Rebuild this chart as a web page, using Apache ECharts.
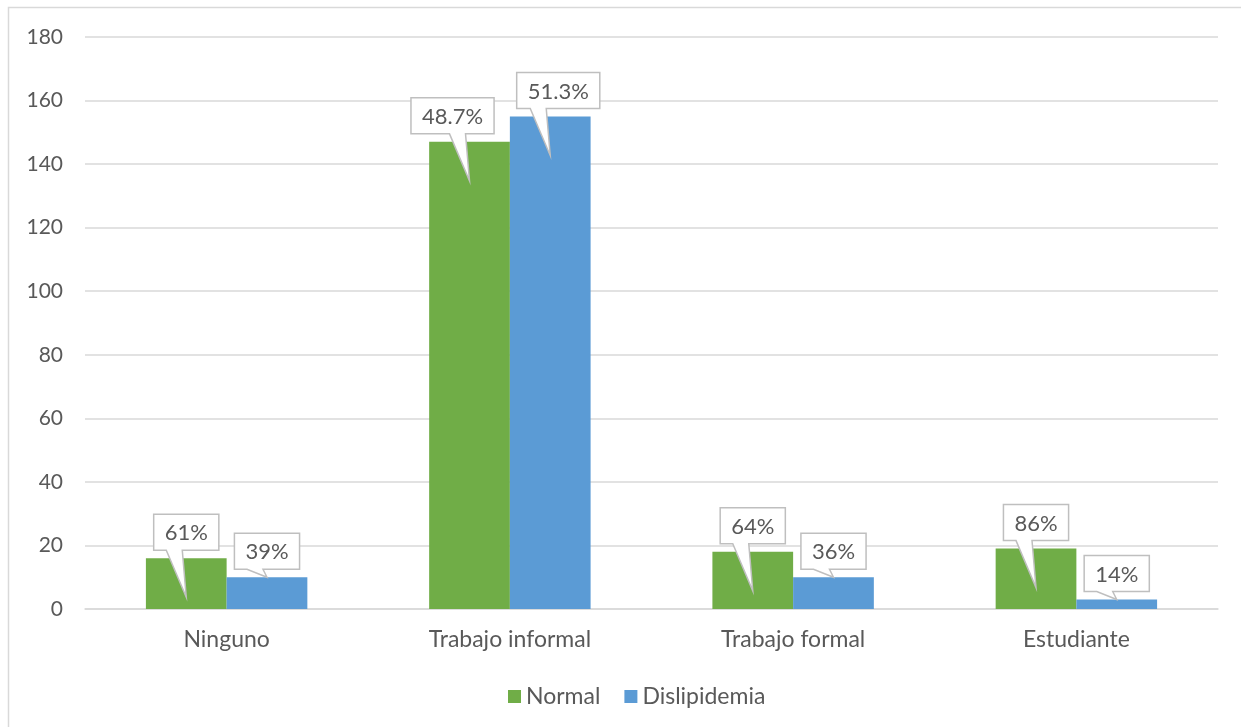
<!DOCTYPE html>
<html>
<head>
<meta charset="utf-8">
<script src="https://cdn.jsdelivr.net/npm/echarts@6/dist/echarts.min.js"></script>
<style>
	html, body { margin: 0; padding: 0; background: #fff; }
	#main { width: 1241px; height: 727px; }
</style>
</head>
<body>
<div id="main"></div>
<script>
var categories = [ 'Ninguno', 'Trabajo informal', 'Trabajo formal', 'Estudiante' ];
var normalValues = [ 16, 147, 18, 19 ];
var dislipValues = [ 10, 155, 10, 3 ];
var normalPct = [ '61%', '48.7%', '64%', '86%' ];
var dislipPct = [ '39%', '51.3%', '36%', '14%' ];

// horizontal nudge of each callout box (pixels)
var normalShift = [ 0, -17, 0, 0 ];
var dislipShift = [ 0, 8, 0, 0 ];

var FONT = 'Lato, "Open Sans", sans-serif';
var GAP = 0.43;

var measureCtx = document.createElement('canvas').getContext('2d');
function textWidth(txt, size) {
	measureCtx.font = size + 'px ' + FONT;
	return measureCtx.measureText(txt).width;
}

function makeCallout(side, labels, shifts) {
	return function(params, api) {
		var i = params.dataIndex;
		var pt = api.coord([ api.value(0), api.value(1) ]);
		var zero = api.coord([ api.value(0), 0 ])[1];
		var band = api.size([ 1, 0 ])[0];
		var barW = band * (1 - GAP) / 2;
		var cx = pt[0] + side * barW / 2;
		var top = pt[1];
		var tipX = cx;
		var tipY = top + ((zero - top) > 45 ? 39 : 0);
		var txt = labels[i];
		var bw = textWidth(txt, 22) + 22;
		var bh = 36;
		var bx = cx + shifts[i] - bw / 2;
		var by = top - 8 - bh;
		var baseL = Math.max(tipX - 20, bx + 2);
		var baseR = Math.min(tipX - 4, bx + bw - 2);
		if (baseR - baseL < 10) {
			baseL = tipX - 9;
			baseR = tipX + 11;
		}
		var yb = by + bh;
		return {
			type : 'group',
			children : [ {
				type : 'polygon',
				shape : {
					points : [ [ bx, by ], [ bx + bw, by ], [ bx + bw, yb ],
							[ baseR, yb ], [ tipX, tipY ], [ baseL, yb ],
							[ bx, yb ] ]
				},
				style : {
					fill : '#ffffff',
					stroke : '#bfbfbf',
					lineWidth : 1.5
				}
			}, {
				type : 'text',
				x : bx + bw / 2,
				y : by + bh / 2 + 1,
				style : {
					text : txt,
					align : 'center',
					verticalAlign : 'middle',
					fontSize : 22,
					fontFamily : FONT,
					fill : '#595959'
				}
			} ]
		};
	};
}

function pairs(values) {
	var out = [];
	for (var i = 0; i < values.length; i++) {
		out.push([ i, values[i] ]);
	}
	return out;
}

var myChart = echarts.init(document.getElementById('main'));
myChart.setOption({
	animation : false,
	textStyle : {
		fontFamily : FONT
	},
	graphic : [ {
		type : 'rect',
		shape : {
			x : 8.5,
			y : 7.5,
			width : 1400,
			height : 900
		},
		style : {
			fill : 'none',
			stroke : '#d9d9d9',
			lineWidth : 1.5
		},
		silent : true,
		z : -10
	} ],
	legend : {
		data : [ 'Normal', 'Dislipidemia' ],
		left : 503,
		top : 680,
		icon : 'rect',
		itemWidth : 13,
		itemHeight : 13,
		itemGap : 24,
		textStyle : {
			fontSize : 23,
			color : '#595959',
			fontFamily : FONT
		}
	},
	grid : {
		left : 85,
		right : 23,
		top : 37,
		bottom : 118
	},
	xAxis : {
		type : 'category',
		data : categories,
		axisTick : {
			show : false
		},
		axisLine : {
			lineStyle : {
				color : '#d9d9d9',
				width : 1.5
			}
		},
		axisLabel : {
			color : '#595959',
			fontSize : 23,
			margin : 19,
			fontFamily : FONT
		}
	},
	yAxis : {
		type : 'value',
		min : 0,
		max : 180,
		interval : 20,
		axisLine : {
			show : false
		},
		axisTick : {
			show : false
		},
		axisLabel : {
			color : '#595959',
			fontSize : 21,
			margin : 22,
			fontFamily : FONT
		},
		splitLine : {
			lineStyle : {
				color : '#d9d9d9',
				width : 1.5
			}
		}
	},
	series : [ {
		name : 'Normal',
		type : 'bar',
		data : normalValues,
		barGap : '0%',
		barCategoryGap : '43%',
		itemStyle : {
			color : '#70ad47'
		}
	}, {
		name : 'Dislipidemia',
		type : 'bar',
		data : dislipValues,
		itemStyle : {
			color : '#5b9bd5'
		}
	}, {
		name : 'normalCallout',
		type : 'custom',
		renderItem : makeCallout(-1, normalPct, normalShift),
		data : pairs(normalValues),
		encode : {
			x : 0,
			y : 1
		},
		silent : true,
		z : 10
	}, {
		name : 'dislipCallout',
		type : 'custom',
		renderItem : makeCallout(1, dislipPct, dislipShift),
		data : pairs(dislipValues),
		encode : {
			x : 0,
			y : 1
		},
		silent : true,
		z : 10
	} ]
});
</script>
</body>
</html>
